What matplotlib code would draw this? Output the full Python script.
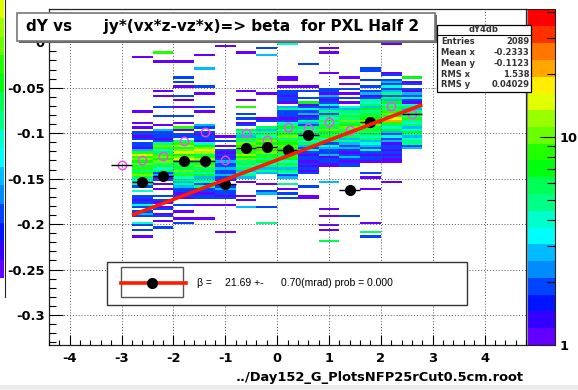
import colorsys
import numpy as np
import matplotlib
matplotlib.use('Agg')
import matplotlib.pyplot as plt
from matplotlib.colors import ListedColormap, BoundaryNorm
from matplotlib.patches import Rectangle
from matplotlib.lines import Line2D
from matplotlib.ticker import FixedLocator, FixedFormatter, NullFormatter

plt.rcParams['font.family'] = ['DejaVu Sans']
plt.rcParams['axes.unicode_minus'] = False

# dY4db: 2D histogram, x columns of 0.4 from -2.8 to 2.8, y bins of 0.0025 going
# down from +0.04. One character per y bin, base-36 count, '.' = empty.
X_EDGES = np.linspace(-2.8, 2.8, 15)
Y_TOP = 0.04
Y_BIN = 0.0025
N_YBINS = 116

COL_0 = ".......... .......... ..1....... .......... ......1... .1.1.2212. 22139g8a7b 6958a64352 .4.221242. 232..42.2. .1........"
COL_1 = ".......... .....2.... 8...1..... .......1.1 ....2...2. ..1.322212 5a8469b7a5 8462312.1. 1..2.21.12 .12.1..2.."
COL_2 = ".......... .......... ....1..... .2.2.1...2 .1..1...2. .1.81.22.5 9c6ae7bg85 96a5846353 22121..2.. 1..1.2...."
COL_3 = ".......... .......... .1.....3.. .....2..1. ....2.1... ..32.21221 47ahd69c58 b584736425 22122..1.. ...1......"
COL_4 = ".......... .......1.. .......... .......... .......... .......1.2 .1.2121232 2322321..2 32212..1.. .........1"
COL_5 = ".......... .......... 1......... .......1.. .1..8..2.2 .12.746385 a8b69c7a58 463453.1.. ...1.1..3."
COL_6 = ".......... ........2. .3........ ........1. .........1 2..635849a 7ac8b69574 6353....1. .23.....2. .....5...."
COL_7 = ".......... ......4... .......... .11..1.221 221.352221 2457486a59 7b86959748 536423..5. 1.2.2....."
COL_8 = ".......... .......... .....2.... .....1.2.. 2.71242312 5326483594 6324212212 1212.....2 ...11....."
COL_9 = ".......... ........1. 1........1 ......2213 2124235264 8496a75846 2432231221 1......3.. .........1 ..1...1.1. ...6......"
COL_10 = ".......... .......... .......... .1..1.2.1. 2.1.436485 a67b584635 3232123212 2......... .......... ..2......."
COL_11 = ".2........ .......... .......22. ..2..2.231 2546375697 a8b6957463 432421221. ...2.1.... 1......... .....1...6 .2........"
COL_12 = ".......... ......1... .........1 2.23242352 6374958b6e k964732423 122121211. .......1.."
COL_13 = ".......... .......... .......... .7.12.2132 4214635749 5463475345 523......."
COLUMNS = [COL_0, COL_1, COL_2, COL_3, COL_4, COL_5, COL_6, COL_7,
           COL_8, COL_9, COL_10, COL_11, COL_12, COL_13]

# profiles per x bin
PROF_X = [-2.6, -2.2, -1.8, -1.4, -1.0, -0.6, -0.2, 0.2, 0.6, 1.4, 1.8]
PROF_Y = [-0.154, -0.147, -0.131, -0.131, -0.156, -0.116, -0.115, -0.118, -0.102, -0.163, -0.088]
PROF_ERR = [0.004, 0.004, 0.004, 0.006, 0.005, 0.004, 0.004, 0.006, 0.004, 0.003, 0.004]
BAR_X = [-3.0, 2.6]
BAR_Y = [-0.135, -0.079]
MEAN_X = [-3.0, -2.6, -2.2, -1.8, -1.4, -1.0, -0.6, -0.2, 0.2, 0.6, 1.0, 1.4, 1.8, 2.2, 2.6]
MEAN_Y = [-0.135, -0.129, -0.125, -0.109, -0.099, -0.129, -0.100, -0.107, -0.093, -0.094,
          -0.088, -0.096, -0.088, -0.070, -0.079]

# straight-line fit
FIT_RANGE = [-2.8, 2.8]
FIT_P0 = -0.1295
BETA = 21.69      # mrad
BETA_ERR = 0.70
PROB = 0.000

# stats box
HIST_NAME = "dY4db"
STAT_NAMES = ["Entries", "Mean x", "Mean y", "RMS x", "RMS y"]
STAT_VALUES = ["2089", "-0.2333", "-0.1123", "1.538", "0.04029"]

TITLE = "dY vs      jy*(vx*z-vz*x)=> beta  for PXL Half 2"
X_TITLE = "../Day152_G_PlotsNFP25rCut0.5cm.root"
X_TICKS = [-4, -3, -2, -1, 0, 1, 2, 3, 4]
Y_TICKS = [0, -0.05, -0.1, -0.15, -0.2, -0.25, -0.3]
Y_LABELS = ["0", "-0.05", "-0.1", "-0.15", "-0.2", "-0.25", "-0.3"]
Z_MIN, Z_MAX = 1.0, 41.0
N_CONT = 20


def decode(col):
    s = col.replace(" ", "").ljust(N_YBINS, ".")
    return [0 if ch == "." else int(ch, 36) for ch in s]


def root_palette(n):
    # rainbow palette: hue 280 -> 0, 50 shades, sampled for n contours
    cols = []
    for k in range(n):
        idx = int(0.01 + (k + 0.99) * 50 / n)
        hue = 280.0 - (idx + 1) * 280.0 / 50
        cols.append(colorsys.hls_to_rgb(hue / 360.0, 0.5, 1.0))
    return cols


W, H = 578.0, 390.0


def fx(px):
    return px / W


def fy(py):
    return 1.0 - py / H


counts = np.array([decode(c) for c in COLUMNS]).T
y_edges = Y_TOP - Y_BIN * np.arange(N_YBINS + 1)
pal = root_palette(N_CONT)
bounds = Z_MIN * (Z_MAX / Z_MIN) ** (np.arange(N_CONT + 1) / N_CONT)
cmap = ListedColormap(pal)
norm = BoundaryNorm(bounds, N_CONT)

fig = plt.figure(figsize=(5.78, 3.90), dpi=100)

# strip of the neighbouring pad's palette at the left edge
strip_h = 18.6
for k in range(16):
    fig.add_artist(Rectangle((0, fy(297 - (k + 1) * strip_h)), fx(4), strip_h / H,
                             transform=fig.transFigure, color=pal[k], lw=0))
fig.add_artist(Line2D([fx(4.5), fx(4.5)], [fy(0), fy(297)], transform=fig.transFigure,
                      color='#222222', lw=0.8))
fig.add_artist(Rectangle((0, 0), 1, 5 / H, transform=fig.transFigure,
                         color='#ececec', lw=0))

ax = fig.add_axes([fx(49), fy(345), (526 - 49) / W, (345 - 9.5) / H])
ax.pcolormesh(X_EDGES, y_edges, np.ma.masked_equal(counts, 0), cmap=cmap, norm=norm,
              shading='flat', edgecolors='none', antialiased=False, zorder=1)
ax.set_xlim(-4.4, 4.8)
ax.set_ylim(-0.333, 0.036)

ax.set_axisbelow(False)
ax.grid(True, which='major', linestyle=(0, (1, 2)), color='#555555', lw=0.7)
ax.xaxis.set_major_locator(FixedLocator(X_TICKS))
ax.xaxis.set_minor_locator(FixedLocator(np.arange(-4.4, 4.81, 0.2)))
ax.yaxis.set_major_locator(FixedLocator(Y_TICKS))
ax.yaxis.set_minor_locator(FixedLocator(np.arange(-0.33, 0.031, 0.01)))
ax.set_yticklabels(Y_LABELS)
ax.set_xticklabels([str(t) for t in X_TICKS])
ax.tick_params(axis='y', which='major', direction='in', length=10, width=0.8, pad=3,
               labelsize=9.4)
ax.tick_params(axis='y', which='minor', direction='in', length=5, width=0.8)
ax.tick_params(axis='x', which='major', direction='in', length=7, width=0.8, pad=5,
               labelsize=9.4)
ax.tick_params(axis='x', which='minor', direction='in', length=3.6, width=0.8)
for lbl in ax.get_xticklabels() + ax.get_yticklabels():
    lbl.set_fontweight('bold')
for sp in ax.spines.values():
    sp.set_linewidth(0.9)
    sp.set_color('#222222')

# profiles and fit
ax.plot(MEAN_X, MEAN_Y, 'o', mfc='none', mec='#ff40ff', ms=6, mew=1.0, zorder=4)
ax.errorbar(BAR_X, BAR_Y, xerr=0.2, fmt='none', ecolor='black', elinewidth=1, zorder=5)
ax.errorbar(PROF_X, PROF_Y, xerr=0.2, yerr=PROF_ERR, fmt='o', color='black', ms=7,
            elinewidth=1, capsize=0, zorder=5)
fit_x = np.array(FIT_RANGE)
ax.plot(fit_x, FIT_P0 + BETA * 1e-3 * fit_x, color='#ff1a00', lw=2.6,
        solid_capstyle='butt', zorder=6)

fig.text(fx(524), fy(377), X_TITLE, ha='right', va='center', fontsize=9.4,
         fontweight='bold')

# palette
cax = fig.add_axes([fx(527), fy(345), 28 / W, (345 - 9.5) / H])
for k in range(N_CONT):
    cax.axhspan(bounds[k], bounds[k + 1], color=pal[k], lw=0)
cax.set_yscale('log')
cax.set_ylim(Z_MIN, Z_MAX)
cax.set_xlim(0, 1)
cax.set_xticks([])
cax.yaxis.tick_right()
cax.yaxis.set_major_locator(FixedLocator([1, 10]))
cax.yaxis.set_major_formatter(FixedFormatter(['1', '10']))
cax.yaxis.set_minor_locator(FixedLocator([2, 3, 4, 5, 6, 7, 8, 9, 20, 30, 40]))
cax.yaxis.set_minor_formatter(NullFormatter())
cax.tick_params(axis='y', which='major', direction='in', length=10.5, width=0.8,
                pad=3, labelsize=9.4)
cax.tick_params(axis='y', which='minor', direction='in', length=5.5, width=0.8)
for lbl in cax.get_yticklabels():
    lbl.set_fontweight('bold')
for name, sp in cax.spines.items():
    sp.set_linewidth(0.8)
    sp.set_color('#888888' if name == 'left' else '#222222')

# title pave
fig.add_artist(Rectangle((fx(19), fy(42.5)), (435 - 17) / W, (42.5 - 14.5) / H,
                         transform=fig.transFigure, color='#666666', lw=0, zorder=20))
fig.add_artist(Rectangle((fx(17), fy(40.7)), (435 - 17) / W, (40.7 - 12.7) / H,
                         transform=fig.transFigure, facecolor='white',
                         edgecolor='#777777', lw=1.2, zorder=21))
fig.text(fx(26.5), fy(27), TITLE, ha='left', va='center', fontsize=11.0,
         fontweight='bold', zorder=22)

# stats pave
fig.add_artist(Rectangle((fx(437), fy(92)), (531 - 437) / W, (92 - 25) / H,
                         transform=fig.transFigure, facecolor='white',
                         edgecolor='black', lw=0.9, zorder=20))
fig.add_artist(Line2D([fx(437), fx(531)], [fy(35), fy(35)], transform=fig.transFigure,
                      color='black', lw=0.8, zorder=21))
fig.text(fx(484), fy(30), HIST_NAME, ha='center', va='center', fontsize=6,
         fontweight='bold', color='#333333', zorder=22)
for i, (nm, val) in enumerate(zip(STAT_NAMES, STAT_VALUES)):
    yy = fy(41.7 + 10.8 * i)
    fig.text(fx(441), yy, nm, ha='left', va='center', fontsize=6, fontweight='bold',
             color='#333333', zorder=22)
    fig.text(fx(529.5), yy, val, ha='right', va='center', fontsize=6, fontweight='bold',
             color='#333333', zorder=22)

# fit legend
fig.add_artist(Rectangle((fx(107), fy(305)), (467 - 107) / W, (305 - 262) / H,
                         transform=fig.transFigure, facecolor='white',
                         edgecolor='#333333', lw=1.0, zorder=20))
fig.add_artist(Rectangle((fx(121), fy(297)), (183 - 121) / W, (297 - 267) / H,
                         transform=fig.transFigure, facecolor='none',
                         edgecolor='#555555', lw=1.0, zorder=21))
fig.add_artist(Line2D([fx(121), fx(186)], [fy(283), fy(283)], transform=fig.transFigure,
                      color='#ff1a00', lw=2.6, zorder=22))
fig.add_artist(Line2D([fx(152)], [fy(283)], transform=fig.transFigure, marker='o',
                      color='black', ms=7, zorder=23))
leg_kw = dict(ha='left', va='center', fontsize=7.5, family='Liberation Sans', zorder=22)
fig.text(fx(197), fy(283), "\u03b2 =", **leg_kw)
fig.text(fx(225), fy(283), f"{BETA:.2f} +-", **leg_kw)
fig.text(fx(281), fy(283), f"{BETA_ERR:.2f}(mrad) prob = {PROB:.3f}", **leg_kw)

fig.savefig("out.png", dpi=100)
